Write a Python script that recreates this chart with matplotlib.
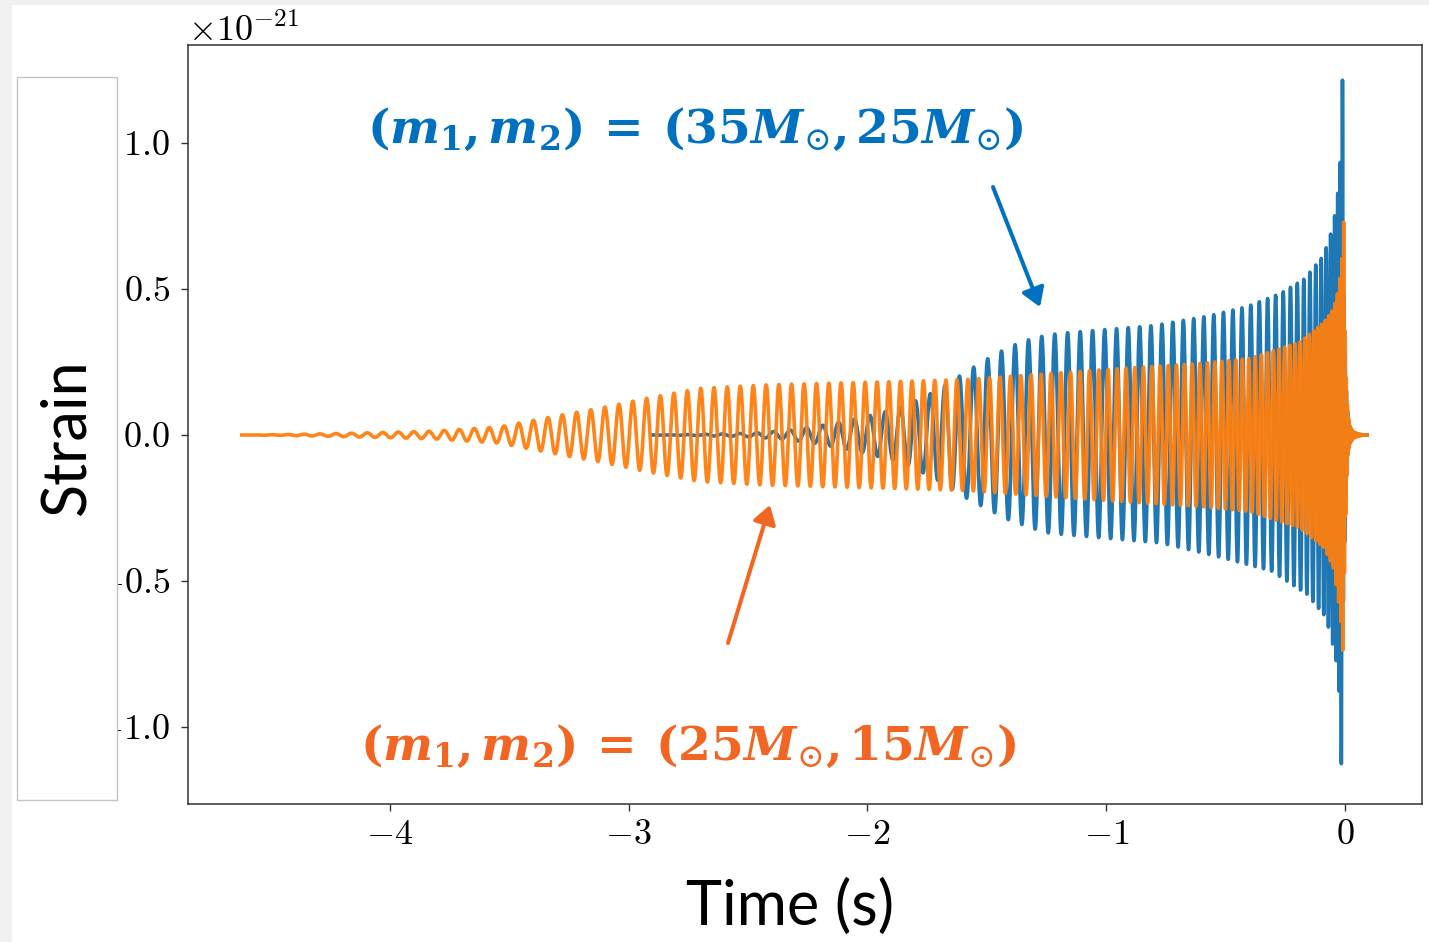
import numpy as np
import matplotlib
matplotlib.use("Agg")
import matplotlib.pyplot as plt
from matplotlib.patches import Rectangle, FancyArrowPatch

# ---------------------------------------------------------------------------
# Waveform descriptions (time in s, strain in units of 1e-21)
# ---------------------------------------------------------------------------
# (m1, m2) = (35, 25) Msun
blue_span = (-2.90, 0.092)
blue_peak_t = -0.011
blue_freq_t = [-2.90, -2.40, -1.70, -1.20, -0.78, -0.52, -0.30, -0.20, -0.12,
               -0.05, -0.030, -0.017, -0.011, -0.004, 0.092]
blue_freq_hz = [13.0, 14.3, 16.3, 18.5, 21.7, 24.7, 29.9, 35.9, 42.0,
                59.0, 90.0, 105.0, 110.0, 200.0, 250.0]
blue_up_t = [-2.90, -2.70, -2.50, -2.35, -2.21, -2.08, -2.00, -1.90, -1.84,
             -1.78, -1.72, -1.66, -1.60, -1.53, -1.47, -1.41, -1.35, -1.29,
             -1.20, -0.80, -0.57, -0.41, -0.27, -0.17, -0.09, -0.05, -0.033,
             -0.022, -0.011, -0.006, 0.000, 0.006, 0.012, 0.020, 0.035, 0.060,
             0.092]
blue_up_amp = [0.0, 0.002, 0.006, 0.014, 0.030, 0.050, 0.065, 0.085, 0.100,
               0.125, 0.148, 0.178, 0.210, 0.245, 0.274, 0.300, 0.320, 0.335,
               0.348, 0.375, 0.408, 0.440, 0.485, 0.535, 0.615, 0.715, 0.815,
               0.885, 1.220, 0.550, 0.300, 0.140, 0.060, 0.025, 0.008, 0.002,
               0.0]
blue_dn_t = [-2.90, -2.70, -2.50, -2.35, -2.21, -2.08, -2.00, -1.90, -1.84,
             -1.78, -1.72, -1.66, -1.60, -1.53, -1.47, -1.41, -1.30, -1.24,
             -1.19, -0.77, -0.54, -0.31, -0.16, -0.08, -0.04, -0.027, -0.016,
             -0.008, 0.000, 0.006, 0.012, 0.020, 0.035, 0.060, 0.092]
blue_dn_amp = [0.0, 0.002, 0.006, 0.014, 0.030, 0.050, 0.065, 0.085, 0.100,
               0.125, 0.148, 0.178, 0.210, 0.240, 0.265, 0.290, 0.322, 0.336,
               0.340, 0.370, 0.415, 0.465, 0.545, 0.625, 0.755, 0.835, 1.147,
               0.600, 0.300, 0.140, 0.060, 0.025, 0.008, 0.002, 0.0]

# (m1, m2) = (25, 15) Msun
orange_span = (-4.62, 0.092)
orange_peak_t = -0.006
orange_freq_t = [-4.62, -4.00, -3.50, -3.00, -2.50, -2.00, -1.50, -1.00,
                 -0.60, -0.30, -0.15, -0.07, -0.030, -0.015, -0.006, 0.000,
                 0.092]
orange_freq_hz = [14.6, 15.4, 16.2, 17.2, 18.4, 20.0, 22.3, 26.0,
                  31.4, 40.8, 52.9, 70.0, 97.0, 120.0, 140.0, 200.0, 250.0]
orange_up_t = [-4.62, -4.40, -4.17, -3.82, -3.54, -3.26, -3.12, -2.93, -2.70,
               -2.42, -1.94, -1.59, -1.03, -0.61, -0.40, -0.19, -0.09, -0.05,
               -0.030, -0.015, -0.006, 0.000, 0.006, 0.012, 0.020, 0.035,
               0.060, 0.092]
orange_up_amp = [0.0, 0.002, 0.006, 0.013, 0.028, 0.072, 0.092, 0.125, 0.160,
                 0.172, 0.182, 0.190, 0.223, 0.245, 0.262, 0.318, 0.385, 0.430,
                 0.490, 0.580, 0.730, 0.350, 0.160, 0.070, 0.030, 0.010,
                 0.002, 0.0]
orange_dn_t = [-4.62, -4.40, -4.17, -3.82, -3.54, -3.26, -3.12, -2.93, -2.70,
               -2.42, -1.94, -1.59, -1.03, -0.61, -0.40, -0.19, -0.09, -0.05,
               -0.030, -0.015, -0.009, 0.000, 0.006, 0.012, 0.020, 0.035,
               0.060, 0.092]
orange_dn_amp = [0.0, 0.002, 0.006, 0.013, 0.028, 0.072, 0.092, 0.125, 0.160,
                 0.172, 0.182, 0.190, 0.223, 0.245, 0.262, 0.318, 0.385, 0.450,
                 0.550, 0.660, 0.747, 0.350, 0.160, 0.070, 0.030, 0.010,
                 0.002, 0.0]

blue_masses = ("35", "25")
orange_masses = ("25", "15")
x_label = "Time (s)"
y_label = "Strain"

line_blue = "#1f77b4"
line_orange = "#ff7f0e"
text_blue = "#0070C0"
text_orange = "#F26522"


def mass_label(m1, m2):
    return (r"$\mathbf{(}\mathbfit{m}_{\mathbf{1}}\mathbf{,}\,"
            r"\mathbfit{m}_{\mathbf{2}}\mathbf{)}\:\mathbf{=}\:"
            r"\mathbf{(" + m1 + r"}\mathbfit{M}_{\odot}\mathbf{,}\,"
            r"\mathbf{" + m2 + r"}\mathbfit{M}_{\odot}\mathbf{)}$")


def waveform(span, peak_t, ft, fv, ut, ua, dt_, da):
    """Oscillation whose frequency and upper/lower envelopes follow the tables."""
    step = 1.0 / 8192
    t = np.arange(span[0], span[1] + step / 2, step)
    f = np.exp(np.interp(t, ft, np.log(fv)))
    phase = 2 * np.pi * np.cumsum(f) * step
    phase += np.pi / 2 - np.interp(peak_t, t, phase)
    s = np.sin(phase)
    up = np.interp(t, ut, ua)
    dn = np.interp(t, dt_, da)
    h = np.where(s >= 0, up * s, dn * s)
    return t, h * 1e-21


W, H = 1429, 942
plt.rcParams["font.family"] = "cmr10"
plt.rcParams["mathtext.fontset"] = "cm"
plt.rcParams["axes.formatter.use_mathtext"] = True
plt.rcParams["axes.unicode_minus"] = True

fig = plt.figure(figsize=(W / 100, H / 100), dpi=100, facecolor="white")


def fx(x):
    return x / W


def fy(y):
    return 1 - y / H


ax = fig.add_axes([fx(188), fy(804), fx(1422) - fx(188), fy(45) - fy(804)])

tb, hb = waveform(blue_span, blue_peak_t, blue_freq_t, blue_freq_hz,
                  blue_up_t, blue_up_amp, blue_dn_t, blue_dn_amp)
to, ho = waveform(orange_span, orange_peak_t, orange_freq_t, orange_freq_hz,
                  orange_up_t, orange_up_amp, orange_dn_t, orange_dn_amp)

ax.plot(tb, hb, color=line_blue, lw=2.6, zorder=2)
ax.plot(to, ho, color=line_orange, lw=2.6, alpha=0.95, zorder=3)

ax.set_xlim(-4.845, 0.322)
ax.set_ylim(-1.264e-21, 1.336e-21)
ax.set_xticks([-4, -3, -2, -1, 0])
ax.set_yticks([-1e-21, -0.5e-21, 0, 0.5e-21, 1e-21])
ax.tick_params(labelsize=26, length=5, width=1.0, color="0.2", pad=6)
ax.tick_params(axis="y", pad=8)
ax.yaxis.get_offset_text().set_fontsize(26)
for sp in ax.spines.values():
    sp.set_linewidth(1.1)
    sp.set_color("0.2")

# light frame strips on the left and top of the canvas
fig.add_artist(Rectangle((0, 0), fx(12), 1, transform=fig.transFigure,
                         facecolor="#f0f0f0", edgecolor="none", zorder=4))
fig.add_artist(Rectangle((0, fy(5)), 1, 1 - fy(5), transform=fig.transFigure,
                         facecolor="#f0f0f0", edgecolor="none", zorder=4))

# panel that holds the vertical axis title
fig.add_artist(Rectangle((fx(17), fy(800)), fx(100), fy(77) - fy(800),
                         transform=fig.transFigure, facecolor="white",
                         edgecolor="#c4c4c4", linewidth=1.0, zorder=5))
fig.text(fx(67), fy(437), y_label, rotation=90, ha="center", va="center",
         family="Lato", fontsize=44, color="black", zorder=6)
fig.text(fx(790), fy(925), x_label, ha="center", va="baseline",
         family="Lato", fontsize=44, color="black", zorder=6)

# mass annotations
fig.text(fx(695), fy(143), mass_label(*blue_masses), ha="center",
         va="baseline", fontsize=34, color=text_blue,
         math_fontfamily="dejavuserif", zorder=6)
fig.text(fx(688), fy(760), mass_label(*orange_masses), ha="center",
         va="baseline", fontsize=34, color=text_orange,
         math_fontfamily="dejavuserif", zorder=6)

for (x0, y0), (x1, y1), c in [((993, 187), (1040, 307), text_blue),
                              ((728, 643), (770, 505), text_orange)]:
    fig.add_artist(FancyArrowPatch((fx(x0), fy(y0)), (fx(x1), fy(y1)),
                                   transform=fig.transFigure,
                                   arrowstyle="-|>,head_length=0.55,head_width=0.35",
                                   mutation_scale=20, lw=2.9, color=c,
                                   shrinkA=0, shrinkB=0, zorder=6))

fig.savefig("out.png", dpi=100, facecolor="white")
